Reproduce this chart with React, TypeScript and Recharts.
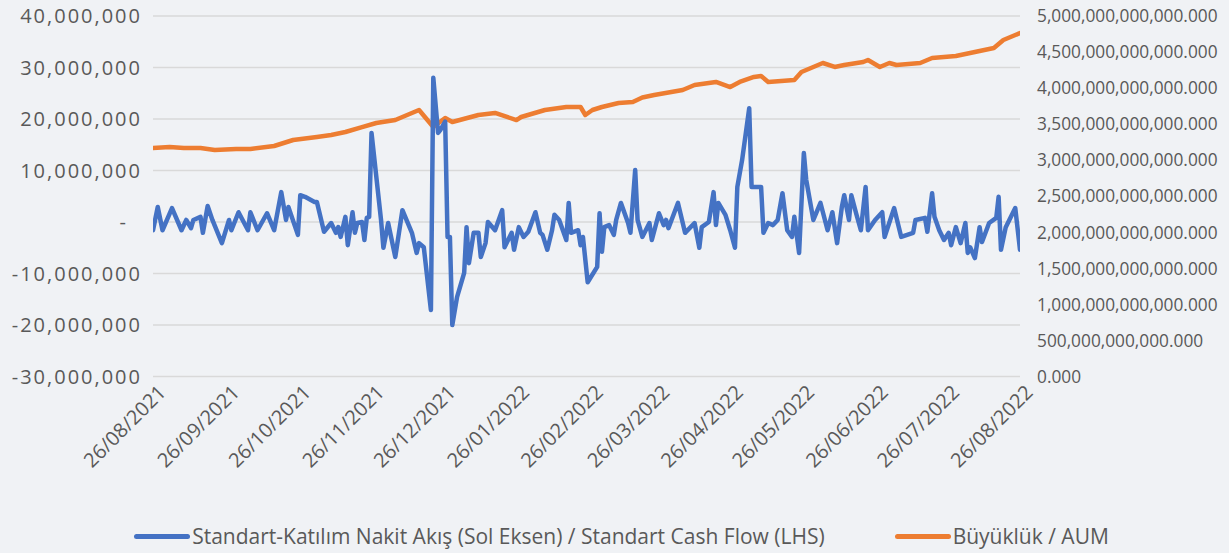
import React from 'react';
import { LineChart, Line, XAxis, YAxis, CartesianGrid } from 'recharts';

// Standart-Katılım cash flow (millions TRY)
const cfDates = [
  '2021-08-26','2021-08-28','2021-08-30','2021-09-03','2021-09-07','2021-09-09','2021-09-11','2021-09-12','2021-09-15','2021-09-16',
  '2021-09-18','2021-09-20','2021-09-24','2021-09-27','2021-09-28','2021-10-01','2021-10-05','2021-10-06','2021-10-09','2021-10-13',
  '2021-10-16','2021-10-19','2021-10-21','2021-10-22','2021-10-26','2021-10-27','2021-10-29','2021-11-02','2021-11-03','2021-11-06',
  '2021-11-09','2021-11-11','2021-11-12','2021-11-13','2021-11-15','2021-11-16','2021-11-18','2021-11-19','2021-11-20','2021-11-22',
  '2021-11-23','2021-11-24','2021-11-25','2021-11-26','2021-11-30','2021-12-01','2021-12-03','2021-12-06','2021-12-09','2021-12-13',
  '2021-12-15','2021-12-16','2021-12-18','2021-12-21','2021-12-22','2021-12-24','2021-12-25','2021-12-27','2021-12-28','2021-12-29',
  '2021-12-30','2022-01-01','2022-01-04','2022-01-05','2022-01-06','2022-01-08','2022-01-10','2022-01-11','2022-01-13','2022-01-14',
  '2022-01-17','2022-01-20','2022-01-21','2022-01-24','2022-01-25','2022-01-27','2022-01-29','2022-01-31','2022-02-03','2022-02-05',
  '2022-02-06','2022-02-08','2022-02-10','2022-02-11','2022-02-13','2022-02-16','2022-02-17','2022-02-18','2022-02-21','2022-02-22',
  '2022-02-23','2022-02-25','2022-03-01','2022-03-02','2022-03-03','2022-03-04','2022-03-06','2022-03-08','2022-03-09','2022-03-11',
  '2022-03-14','2022-03-15','2022-03-17','2022-03-18','2022-03-20','2022-03-23','2022-03-24','2022-03-27','2022-03-29','2022-03-30',
  '2022-03-31','2022-04-04','2022-04-07','2022-04-11','2022-04-13','2022-04-14','2022-04-17','2022-04-19','2022-04-20','2022-04-21',
  '2022-04-24','2022-04-26','2022-04-28','2022-04-29','2022-05-01','2022-05-04','2022-05-05','2022-05-09','2022-05-10','2022-05-12',
  '2022-05-14','2022-05-16','2022-05-18','2022-05-20','2022-05-22','2022-05-23','2022-05-25','2022-05-27','2022-05-28','2022-05-31',
  '2022-06-03','2022-06-06','2022-06-08','2022-06-10','2022-06-12','2022-06-13','2022-06-15','2022-06-16','2022-06-18','2022-06-20',
  '2022-06-22','2022-06-23','2022-06-26','2022-06-29','2022-06-30','2022-07-04','2022-07-07','2022-07-12','2022-07-13','2022-07-17',
  '2022-07-18','2022-07-20','2022-07-21','2022-07-23','2022-07-25','2022-07-27','2022-07-28','2022-07-30','2022-08-01','2022-08-03',
  '2022-08-04','2022-08-05','2022-08-07','2022-08-09','2022-08-10','2022-08-13','2022-08-16','2022-08-17','2022-08-18','2022-08-20',
  '2022-08-24','2022-08-26',
];
const cfValuesM = [
  -1.6, 2.9, -1.6, 2.7, -1.6, 0.4, -1.2, 0.4, 1.0, -2.1,
  3.1, 0.4, -4.1, 0.4, -1.6, 1.9, -1.6, 1.9, -1.6, 1.7,
  -1.6, 5.8, 0.4, 2.9, -2.5, 5.2, 4.9, 3.9, 3.9, -1.9,
  -0.2, -2.1, -1.0, -2.9, 1.0, -4.5, 1.9, -2.1, -0.2, 0.0,
  -3.5, 0.8, 1.0, 17.3, 0.4, -5.0, -0.2, -6.8, 2.3, -2.1,
  -6.0, -4.1, -4.9, -17.1, 28.0, 17.3, 17.9, 19.5, -2.9, -2.9,
  -20.0, -14.6, -9.9, -1.0, -8.0, -2.1, -2.1, -6.8, -4.1, 0.0,
  -1.6, 2.3, -4.9, -2.1, -5.4, -1.0, -2.9, -1.9, 1.9, -2.1,
  -2.5, -5.4, -1.6, 1.4, 0.4, -3.5, 3.7, -2.1, -1.6, -4.5,
  -2.9, -11.7, -8.7, 1.7, -5.8, -1.0, -0.6, -2.5, 0.4, 3.7,
  -0.2, -2.1, 10.1, 0.4, -2.9, -0.2, -3.5, 1.7, -0.6, 0.4,
  -1.2, 3.7, -2.1, -0.2, -5.0, -1.0, 0.0, 5.8, -0.6, 3.7,
  1.4, -1.6, -5.0, 6.8, 12.0, 22.1, 6.8, 6.8, -2.1, -0.2,
  -0.6, 0.4, 5.6, -1.6, -2.9, 1.0, -6.0, 13.4, 8.2, 0.4,
  3.7, -1.6, 1.9, -4.1, 2.9, 5.2, 0.4, 5.2, 1.7, -1.6,
  6.8, -1.6, 0.4, 1.9, -2.9, 2.7, -2.9, -2.1, 0.4, 0.8,
  -1.9, 5.6, 1.0, -1.6, -3.5, -2.1, -4.5, -1.0, -4.1, -0.2,
  -6.0, -4.9, -7.0, -1.0, -3.9, -0.2, 0.8, 4.9, -5.4, -1.0,
  2.7, -5.4,
];

// AUM (billions TRY)
const aumDates = [
  '2021-08-26','2021-09-02','2021-09-08','2021-09-15','2021-09-21','2021-09-30','2021-10-06','2021-10-16','2021-10-24','2021-11-03',
  '2021-11-09','2021-11-15','2021-11-22','2021-11-28','2021-12-06','2021-12-16','2021-12-22','2021-12-27','2021-12-30','2022-01-10',
  '2022-01-17','2022-01-26','2022-01-28','2022-02-07','2022-02-16','2022-02-22','2022-02-24','2022-02-27','2022-03-03','2022-03-10',
  '2022-03-16','2022-03-20','2022-03-25','2022-04-06','2022-04-11','2022-04-20','2022-04-26','2022-04-30','2022-05-06','2022-05-09',
  '2022-05-12','2022-05-23','2022-05-26','2022-05-30','2022-06-04','2022-06-09','2022-06-13','2022-06-21','2022-06-23','2022-06-28',
  '2022-07-02','2022-07-05','2022-07-15','2022-07-20','2022-07-30','2022-08-07','2022-08-15','2022-08-19','2022-08-26',
];
const aumValuesB = [
  3170, 3183, 3170, 3170, 3142, 3156, 3156, 3197, 3280, 3322,
  3350, 3391, 3460, 3516, 3557, 3696, 3460, 3585, 3530, 3627,
  3655, 3557, 3599, 3696, 3738, 3738, 3627, 3696, 3738, 3793,
  3807, 3870, 3904, 3974, 4043, 4085, 4015, 4085, 4154, 4168,
  4085, 4112, 4223, 4279, 4348, 4293, 4320, 4362, 4390, 4293,
  4348, 4320, 4348, 4417, 4445, 4501, 4556, 4667, 4764,
];

const xTickDates = [
  '2021-08-26','2021-09-26','2021-10-26','2021-11-26','2021-12-26','2022-01-26','2022-02-26',
  '2022-03-26','2022-04-26','2022-05-26','2022-06-26','2022-07-26','2022-08-26',
];
const leftTicks = [-30000000, -20000000, -10000000, 0, 10000000, 20000000, 30000000, 40000000];
const rightTicks = [0, 500e9, 1000e9, 1500e9, 2000e9, 2500e9, 3000e9, 3500e9, 4000e9, 4500e9, 5000e9];

const seriesNames = ['Standart-Katılım Nakit Akış (Sol Eksen) / Standart Cash Flow (LHS)', 'Büyüklük / AUM'];
const colors = ['#4472C4', '#ED7D31'];

const toTs = (s: string) => {
  const [y, m, d] = s.split('-').map(Number);
  return Date.UTC(y, m - 1, d);
};
const cfData = cfDates.map((d, i) => ({ t: toTs(d), cf: cfValuesM[i] * 1e6 }));
const aumData = aumDates.map((d, i) => ({ t: toTs(d), aum: aumValuesB[i] * 1e9 }));
const xTicks = xTickDates.map(toTs);

const FONT = '"Open Sans", sans-serif';
const TEXT = '#595959';
const pad2 = (n: number) => (n < 10 ? '0' + n : '' + n);
const fmtDate = (ts: number) => {
  const d = new Date(ts);
  return `${pad2(d.getUTCDate())}/${pad2(d.getUTCMonth() + 1)}/${d.getUTCFullYear()}`;
};
const fmtLeft = (v: number) => (v === 0 ? '-' : v.toLocaleString('en-US'));
const fmtRight = (v: number) =>
  v.toLocaleString('en-US', { minimumFractionDigits: 3, maximumFractionDigits: 3 });

const LeftTick = (props: any) => {
  const { x, y, payload } = props;
  const zero = payload.value === 0;
  return (
    <text
      x={zero ? x - 12 : x + 2}
      y={y}
      dy="0.36em"
      textAnchor="end"
      fill={TEXT}
      fontSize={20}
      letterSpacing={2}
      fontFamily={FONT}
    >
      {fmtLeft(payload.value)}
    </text>
  );
};
const RightTick = (props: any) => {
  const { x, y, payload } = props;
  return (
    <text x={x} y={y} dy="0.36em" textAnchor="start" fill={TEXT} fontSize={17.3} fontFamily={FONT}>
      {fmtRight(payload.value)}
    </text>
  );
};
const DateTick = (props: any) => {
  const { x, y, payload } = props;
  const ax = x + 4;
  const ay = y + 5;
  return (
    <text
      x={ax}
      y={ay}
      dy="0.72em"
      textAnchor="end"
      transform={`rotate(-45, ${ax}, ${ay})`}
      fill={TEXT}
      fontSize={20}
      fontFamily={FONT}
    >
      {fmtDate(payload.value)}
    </text>
  );
};

export default function App() {
  return (
    <div style={{ position: 'absolute', left: 0, top: 0, width: 1229, height: 553, background: '#F0F2F5', overflow: 'hidden' }}>
      <LineChart width={1229} height={553} margin={{ top: 16, right: 0, bottom: 0, left: 0 }}>
        <CartesianGrid yAxisId="left" vertical={false} stroke="#D9D9D9" strokeWidth={1.5} />
        <XAxis
          dataKey="t"
          type="number"
          domain={[xTicks[0], xTicks[xTicks.length - 1]]}
          ticks={xTicks}
          allowDataOverflow
          height={176.5}
          axisLine={false}
          tickLine={false}
          tickSize={0}
          interval={0}
          tick={<DateTick />}
        />
        <YAxis
          yAxisId="left"
          orientation="left"
          width={153}
          domain={[-30000000, 40000000]}
          ticks={leftTicks}
          axisLine={false}
          tickLine={false}
          tickSize={0}
          tickMargin={13}
          interval={0}
          tick={<LeftTick />}
        />
        <YAxis
          yAxisId="right"
          orientation="right"
          width={209}
          domain={[0, 5000e9]}
          ticks={rightTicks}
          axisLine={false}
          tickLine={false}
          tickSize={0}
          tickMargin={17}
          interval={0}
          tick={<RightTick />}
        />
        <Line
          data={aumData}
          dataKey="aum"
          yAxisId="right"
          type="linear"
          stroke={colors[1]}
          strokeWidth={4.5}
          dot={false}
          isAnimationActive={false}
          strokeLinejoin="round"
          strokeLinecap="round"
        />
        <Line
          data={cfData}
          dataKey="cf"
          yAxisId="left"
          type="linear"
          stroke={colors[0]}
          strokeWidth={4.5}
          dot={false}
          isAnimationActive={false}
          strokeLinejoin="round"
          strokeLinecap="round"
        />
      </LineChart>
      <div
        style={{
          position: 'absolute',
          left: 0,
          top: 522,
          width: 1229,
          paddingLeft: 14,
          boxSizing: 'border-box',
          display: 'flex',
          justifyContent: 'center',
          alignItems: 'center',
          gap: 70,
          fontFamily: FONT,
          fontSize: 21,
          color: TEXT,
          whiteSpace: 'nowrap',
        }}
      >
        {seriesNames.map((n, i) => (
          <div key={n} style={{ display: 'flex', alignItems: 'center' }}>
            <span style={{ display: 'inline-block', width: 56, height: 5, borderRadius: 3, background: colors[i], marginRight: 2 }} />
            <span>{n}</span>
          </div>
        ))}
      </div>
    </div>
  );
}
